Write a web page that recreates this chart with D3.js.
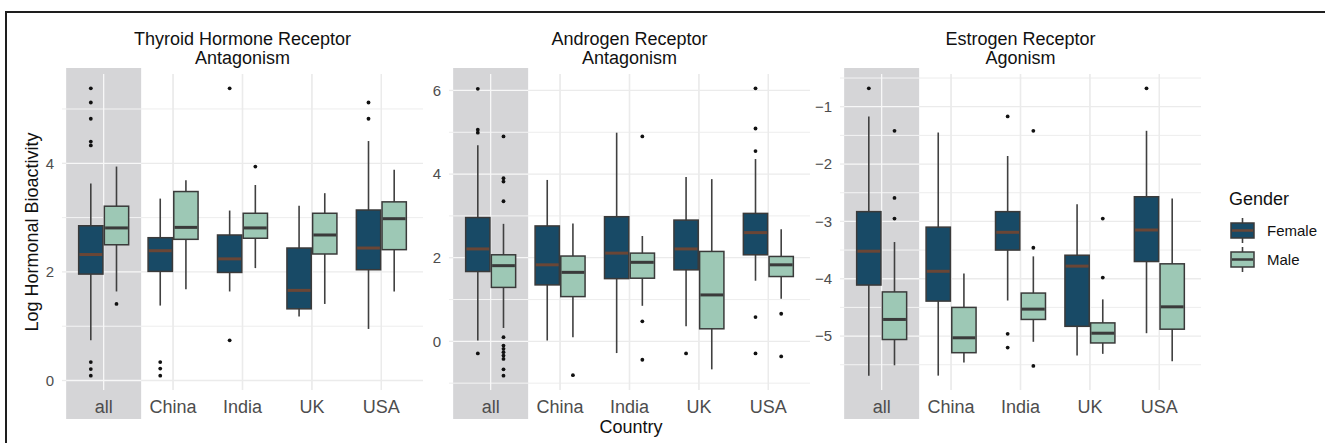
<!DOCTYPE html>
<html>
<head>
<meta charset="utf-8">
<title>Log Hormonal Bioactivity by Country and Gender</title>
<script src="https://d3js.org/d3.v7.min.js" charset="utf-8"></script>
<style>
  html, body { margin: 0; padding: 0; background: #fff; }
  svg { display: block; font-family: "Liberation Sans", Arial, Helvetica, sans-serif; }
</style>
</head>
<body>
<div id="chart"></div>
<script>
// categories
const countries = ["all", "China", "India", "UK", "USA"];
const genders = ["Female", "Male"];
const panelTitles = [
  ["Thyroid Hormone Receptor", "Antagonism"],
  ["Androgen Receptor", "Antagonism"],
  ["Estrogen Receptor", "Agonism"]
];
const panelTicks = [[0, 2, 4], [0, 2, 4, 6], [-5, -4, -3, -2, -1]];

// box stats per country: [lower whisker, q1, median, q3, upper whisker]
const thyroidFemale = [[0.74, 1.96, 2.32, 2.85, 3.63], [1.38, 2.01, 2.39, 2.63, 3.35], [1.64, 1.99, 2.24, 2.68, 3.13], [1.18, 1.32, 1.66, 2.44, 3.22], [0.95, 2.04, 2.44, 3.14, 4.41]];
const thyroidMale = [[1.64, 2.50, 2.81, 3.21, 3.94], [1.68, 2.60, 2.82, 3.48, 3.69], [2.07, 2.62, 2.81, 3.08, 3.60], [1.41, 2.33, 2.68, 3.08, 3.45], [1.64, 2.41, 2.98, 3.29, 3.88]];
const thyroidFemaleOut = [[5.38, 5.12, 4.82, 4.40, 4.33, 0.34, 0.21, 0.09], [0.34, 0.22, 0.09], [5.38, 0.74], [], [5.12, 4.82]];
const thyroidMaleOut = [[1.41], [], [3.94], [], []];

const androgenFemale = [[0.02, 1.67, 2.21, 2.96, 4.69], [0.02, 1.35, 1.83, 2.76, 3.86], [-0.28, 1.50, 2.11, 2.98, 4.99], [0.36, 1.71, 2.21, 2.90, 3.93], [1.45, 2.07, 2.60, 3.06, 4.36]];
const androgenMale = [[0.32, 1.29, 1.81, 2.07, 2.81], [0.10, 1.07, 1.65, 2.04, 2.82], [0.85, 1.51, 1.89, 2.11, 2.52], [-0.67, 0.30, 1.11, 2.15, 3.88], [1.02, 1.55, 1.83, 2.03, 2.68]];
const androgenFemaleOut = [[6.04, 5.06, 4.99, -0.29], [], [], [-0.29], [6.05, 5.09, 4.55, 0.58, -0.29]];
const androgenMaleOut = [[4.90, 3.90, 3.82, 3.35, 0.10, -0.10, -0.18, -0.26, -0.34, -0.42, -0.67, -0.82], [-0.81], [4.90, 0.48, -0.44], [], [0.66, -0.36]];

const estrogenFemale = [[-5.69, -4.11, -3.52, -2.83, -1.17], [-5.69, -4.39, -3.87, -3.10, -1.45], [-4.38, -3.50, -3.19, -2.83, -1.86], [-5.34, -4.83, -3.78, -3.59, -2.70], [-4.95, -3.70, -3.15, -2.57, -1.42]];
const estrogenMale = [[-5.51, -5.06, -4.71, -4.23, -3.36], [-5.46, -5.29, -5.03, -4.50, -3.91], [-5.10, -4.71, -4.53, -4.25, -3.61], [-5.31, -5.12, -4.95, -4.77, -4.36], [-5.44, -4.88, -4.49, -3.74, -2.60]];
const estrogenFemaleOut = [[-0.68], [], [-1.17, -4.96, -5.20], [], [-0.68]];
const estrogenMaleOut = [[-1.42, -2.59, -2.95], [], [-1.42, -3.46, -5.52], [-2.95, -3.98], []];

const genderColors = { Female: "#184a66", Male: "#9dc8b5" };
const medianColors = { Female: "#6a4636", Male: "#3a3a3a" };

const width = 1325, height = 443;
const panelLefts = [62, 449, 840];
const panelWidth = 361;
const panelTop = 74, panelBottom = 390;

const panels = [
  { box: [thyroidFemale, thyroidMale], out: [thyroidFemaleOut, thyroidMaleOut] },
  { box: [androgenFemale, androgenMale], out: [androgenFemaleOut, androgenMaleOut] },
  { box: [estrogenFemale, estrogenMale], out: [estrogenFemaleOut, estrogenMaleOut] }
];

const svg = d3.select("#chart").append("svg")
  .attr("width", width)
  .attr("height", height);

// outer frame
svg.append("rect")
  .attr("x", 6).attr("y", 12)
  .attr("width", 1340).attr("height", 460)
  .attr("fill", "none")
  .attr("stroke", "#1e1e1e")
  .attr("stroke-width", 2);

panels.forEach((p, i) => {
  const left = panelLefts[i];
  const x = d3.scalePoint().domain(countries).range([left, left + panelWidth]).padding(0.6);
  const step = x.step();

  // y domain from data, expanded by 5% like ggplot
  const all = [];
  p.box.forEach(g => g.forEach(s => all.push(s[0], s[4])));
  p.out.forEach(g => g.forEach(o => all.push(...o)));
  const [lo, hi] = d3.extent(all);
  const pad = (hi - lo) * 0.05;
  const y = d3.scaleLinear().domain([lo - pad, hi + pad]).range([panelBottom, panelTop]);

  const ticks = panelTicks[i];
  const tstep = ticks[1] - ticks[0];
  const minor = [];
  for (let v = ticks[0] - tstep / 2; v <= hi + pad; v += tstep) {
    if (v >= lo - pad && !ticks.includes(v)) minor.push(v);
  }

  const g = svg.append("g");

  // grey band behind "all"
  const bandX0 = x("all") - 0.54 * step, bandX1 = x("all") + 0.54 * step;
  g.append("rect")
    .attr("x", bandX0).attr("y", 68)
    .attr("width", bandX1 - bandX0).attr("height", 419 - 68)
    .attr("fill", "#d5d5d7");

  // grid lines, grey on white and white on the band
  const drawGrid = (x0, x1, color, clipBand) => {
    g.selectAll(null).data(minor).enter().append("line")
      .attr("x1", x0).attr("x2", x1)
      .attr("y1", d => y(d)).attr("y2", d => y(d))
      .attr("stroke", color).attr("stroke-width", 0.9);
    g.selectAll(null).data(ticks).enter().append("line")
      .attr("x1", x0).attr("x2", x1)
      .attr("y1", d => y(d)).attr("y2", d => y(d))
      .attr("stroke", color).attr("stroke-width", 1.3);
    g.selectAll(null).data(countries.filter(c => clipBand ? c === "all" : c !== "all")).enter().append("line")
      .attr("x1", d => x(d)).attr("x2", d => x(d))
      .attr("y1", panelTop).attr("y2", panelBottom)
      .attr("stroke", color).attr("stroke-width", 1.3);
  };
  drawGrid(left, bandX0, "#ebebeb", false);
  drawGrid(bandX1, left + panelWidth, "#ebebeb", false);
  drawGrid(bandX0, bandX1, "#f7f7f7", true);

  // y tick labels
  g.selectAll(null).data(ticks).enter().append("text")
    .attr("x", left - 8)
    .attr("y", d => y(d))
    .attr("dy", "0.35em")
    .attr("text-anchor", "end")
    .attr("font-size", 15)
    .attr("fill", "#4d4d4d")
    .text(d => d3.format("d")(d));

  // x tick labels
  g.selectAll(null).data(countries).enter().append("text")
    .attr("x", d => x(d))
    .attr("y", 413)
    .attr("text-anchor", "middle")
    .attr("font-size", 18)
    .attr("fill", "#4d4d4d")
    .text(d => d);

  // boxes
  const boxW = 0.35 * step, dodge = 0.185 * step;
  genders.forEach((gen, gi) => {
    const off = gi === 0 ? -dodge : dodge;
    const stats = p.box[gi];
    const bg = g.append("g");
    bg.selectAll(null).data(countries).enter().append("line")
      .attr("x1", d => x(d) + off).attr("x2", d => x(d) + off)
      .attr("y1", (d, k) => y(stats[k][0])).attr("y2", (d, k) => y(stats[k][4]))
      .attr("stroke", "#404040").attr("stroke-width", 1.6);
    bg.selectAll(null).data(countries).enter().append("rect")
      .attr("x", d => x(d) + off - boxW / 2)
      .attr("width", boxW)
      .attr("y", (d, k) => y(stats[k][3]))
      .attr("height", (d, k) => y(stats[k][1]) - y(stats[k][3]))
      .attr("fill", genderColors[gen])
      .attr("stroke", "#3a3a3a").attr("stroke-width", 1.5);
    bg.selectAll(null).data(countries).enter().append("line")
      .attr("x1", d => x(d) + off - boxW / 2 + 0.75).attr("x2", d => x(d) + off + boxW / 2 - 0.75)
      .attr("y1", (d, k) => y(stats[k][2])).attr("y2", (d, k) => y(stats[k][2]))
      .attr("stroke", medianColors[gen]).attr("stroke-width", 3);
    // outliers
    const pts = [];
    countries.forEach((c, k) => p.out[gi][k].forEach(v => pts.push({ c, v })));
    bg.selectAll(null).data(pts).enter().append("circle")
      .attr("cx", d => x(d.c) + off)
      .attr("cy", d => y(d.v))
      .attr("r", 1.9)
      .attr("fill", "#111");
  });

  // panel title
  const cx = left + panelWidth / 2;
  panelTitles[i].forEach((t, li) => {
    svg.append("text")
      .attr("x", cx).attr("y", 45 + li * 19)
      .attr("text-anchor", "middle")
      .attr("font-size", 18)
      .attr("fill", "#111")
      .text(t);
  });
});

// axis titles
svg.append("text")
  .attr("x", 631).attr("y", 433)
  .attr("text-anchor", "middle")
  .attr("font-size", 18)
  .attr("fill", "#111")
  .text("Country");

svg.append("text")
  .attr("transform", `translate(38, ${(panelTop + panelBottom) / 2}) rotate(-90)`)
  .attr("text-anchor", "middle")
  .attr("font-size", 18)
  .attr("fill", "#111")
  .text("Log Hormonal Bioactivity");

// legend
const legend = svg.append("g");
legend.append("text")
  .attr("x", 1229).attr("y", 205)
  .attr("font-size", 18)
  .attr("fill", "#111")
  .text("Gender");

genders.forEach((gen, gi) => {
  const top = 216 + gi * 29;
  const kx = 1242.5;
  legend.append("line")
    .attr("x1", kx).attr("x2", kx)
    .attr("y1", top + 2).attr("y2", top + 27)
    .attr("stroke", "#404040").attr("stroke-width", 1.6);
  legend.append("rect")
    .attr("x", kx - 11.5).attr("y", top + 7)
    .attr("width", 23).attr("height", 15)
    .attr("fill", genderColors[gen])
    .attr("stroke", "#3a3a3a").attr("stroke-width", 1.5);
  legend.append("line")
    .attr("x1", kx - 10.5).attr("x2", kx + 10.5)
    .attr("y1", top + 14.5).attr("y2", top + 14.5)
    .attr("stroke", medianColors[gen]).attr("stroke-width", 2.5);
  legend.append("text")
    .attr("x", 1267).attr("y", top + 14.5)
    .attr("dy", "0.35em")
    .attr("font-size", 15)
    .attr("fill", "#111")
    .text(gen);
});
</script>
</body>
</html>
